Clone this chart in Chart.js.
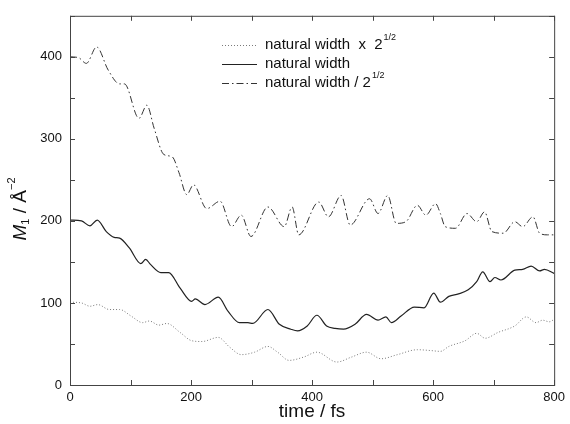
<!DOCTYPE html>
<html>
<head>
<meta charset="utf-8">
<script src="https://cdn.jsdelivr.net/npm/chart.js@4"></script>
<style>
  body { margin: 0; background: #fff; }
  canvas { display: block; }
</style>
</head>
<body>
<canvas id="chart" width="570" height="424"></canvas>
<script>
// natural width x 2^1/2 (dotted)
const wideTimes = [0, 19, 33, 46, 65, 82, 101, 120, 131, 147, 160, 182, 201, 218, 245, 264, 283, 305, 327, 343, 362, 386, 408, 441, 465, 490, 514, 541, 574, 596, 612, 626, 653, 672, 686, 707, 735, 754, 770, 781, 792, 800];
const wideValues = [101, 100, 96, 98, 92, 92, 84, 76, 78, 73, 75, 64, 54, 53, 58, 46, 37, 40, 47, 40, 30, 34, 40, 28, 34, 40, 32, 37, 43, 42, 41, 47, 54, 63, 57, 64, 72, 83, 76, 79, 77, 80];

// natural width (solid)
const naturalTimes = [0, 19, 33, 45, 60, 73, 82, 98, 117, 125, 133, 150, 163, 182, 201, 207, 223, 245, 261, 280, 294, 302, 327, 346, 365, 376, 392, 408, 424, 438, 452, 471, 490, 509, 522, 531, 547, 569, 585, 601, 612, 626, 642, 658, 672, 682, 694, 702, 712, 735, 748, 762, 776, 784, 800];
const naturalValues = [201, 200, 194, 201, 187, 180, 179, 167, 148, 153, 147, 137, 137, 118, 102, 105, 98, 107, 90, 76, 76, 75, 92, 74, 68, 66, 72, 85, 72, 69, 68, 74, 86, 79, 83, 76, 84, 95, 94, 112, 101, 108, 111, 116, 126, 138, 126, 131, 128, 140, 141, 145, 139, 141, 136];

// natural width / 2^1/2 (dash-dot)
const narrowTimes = [0, 14, 27, 44, 63, 82, 90, 114, 127, 139, 155, 169, 180, 193, 204, 226, 248, 267, 283, 299, 327, 354, 367, 378, 411, 427, 448, 463, 495, 509, 525, 539, 555, 574, 588, 604, 612, 620, 637, 656, 672, 685, 697, 716, 735, 748, 765, 776, 789, 800];
const narrowValues = [400, 399, 392, 412, 384, 367, 367, 325, 341, 313, 281, 278, 259, 232, 244, 215, 224, 193, 207, 181, 217, 193, 217, 183, 223, 205, 231, 195, 227, 209, 231, 197, 199, 219, 207, 221, 209, 193, 191, 209, 199, 211, 187, 185, 199, 193, 205, 185, 183, 183];

const xTicks = [0, 200, 400, 600, 800];
const yTicks = [0, 100, 200, 300, 400];

const FONT = '"Liberation Sans", Arial, Helvetica, sans-serif';
const INK = '#111';

function toPoints(times, values) {
    return times.map((t, i) => ({ x: t, y: values[i] }));
}

// Frame, inward ticks, axis titles and the legend
const decorations = {
    id: 'decorations',
    afterDraw(chart) {
        const ctx = chart.ctx;
        const area = chart.chartArea;
        const xs = chart.scales.x;
        const ys = chart.scales.y;
        ctx.save();

        // box
        ctx.strokeStyle = '#444';
        ctx.lineWidth = 1;
        ctx.strokeRect(area.left + 0.5, area.top + 0.5, area.right - area.left, area.bottom - area.top);

        // ticks pointing inward on all four sides
        ctx.beginPath();
        for (let v = 0; v <= 800; v += 100) {
            const px = Math.round(xs.getPixelForValue(v)) + 0.5;
            ctx.moveTo(px, area.bottom); ctx.lineTo(px, area.bottom - 5);
            ctx.moveTo(px, area.top); ctx.lineTo(px, area.top + 5);
        }
        for (let v = 0; v <= 450; v += 50) {
            const py = Math.round(ys.getPixelForValue(v)) + 0.5;
            ctx.moveTo(area.left, py); ctx.lineTo(area.left + 5, py);
            ctx.moveTo(area.right, py); ctx.lineTo(area.right - 5, py);
        }
        ctx.stroke();

        ctx.fillStyle = INK;
        ctx.textBaseline = 'middle';

        // x title
        ctx.font = '19px ' + FONT;
        ctx.textAlign = 'center';
        ctx.fillText('time / fs', (area.left + area.right) / 2, 412);

        // y title: M_1 / Å^-2, rotated
        ctx.translate(21, 209);
        ctx.rotate(-Math.PI / 2);
        ctx.textAlign = 'left';
        const parts = [
            { text: 'M', font: 'italic 19px ' + FONT, dy: 0 },
            { text: '1', font: '11px ' + FONT, dy: 5 },
            { text: ' / Å', font: '19px ' + FONT, dy: 0 },
            { text: '−2', font: '11px ' + FONT, dy: -9 }
        ];
        let total = 0;
        parts.forEach(p => { ctx.font = p.font; p.w = ctx.measureText(p.text).width; total += p.w; });
        let cx = -total / 2;
        parts.forEach(p => {
            ctx.font = p.font;
            ctx.fillText(p.text, cx, p.dy);
            cx += p.w;
        });
        ctx.setTransform(1, 0, 0, 1, 0, 0);

        // legend
        const rows = [
            { main: 'natural width  x  2', sup: '1/2' },
            { main: 'natural width', sup: '' },
            { main: 'natural width / 2', sup: '1/2' }
        ];
        const rowY = [45, 64, 83];
        chart.data.datasets.forEach((ds, i) => {
            const y = rowY[i] + 0.5;
            ctx.beginPath();
            ctx.setLineDash(ds.borderDash || []);
            ctx.strokeStyle = ds.borderColor;
            ctx.lineWidth = ds.borderWidth;
            ctx.moveTo(222, y);
            ctx.lineTo(257, y);
            ctx.stroke();
            ctx.setLineDash([]);

            ctx.fillStyle = INK;
            ctx.textAlign = 'left';
            ctx.font = '15px ' + FONT;
            ctx.fillText(rows[i].main, 265, rowY[i]);
            const w = ctx.measureText(rows[i].main).width;
            if (rows[i].sup) {
                ctx.font = '9px ' + FONT;
                ctx.fillText(rows[i].sup, 265 + w + 1, rowY[i] - 7);
            }
        });

        ctx.restore();
    }
};

new Chart(document.getElementById('chart'), {
    type: 'line',
    data: {
        datasets: [{
            label: 'natural width x 2^1/2',
            data: toPoints(wideTimes, wideValues),
            borderColor: '#7a7a7a',
            borderWidth: 1,
            borderDash: [1, 2]
        }, {
            label: 'natural width',
            data: toPoints(naturalTimes, naturalValues),
            borderColor: '#222',
            borderWidth: 1.2
        }, {
            label: 'natural width / 2^1/2',
            data: toPoints(narrowTimes, narrowValues),
            borderColor: '#333',
            borderWidth: 1,
            borderDash: [7, 3, 1.5, 3]
        }]
    },
    options: {
        responsive: false,
        animation: false,
        layout: { padding: { top: 12, right: 11, left: 0, bottom: 0 } },
        elements: {
            point: { radius: 0 },
            line: { cubicInterpolationMode: 'monotone', fill: false }
        },
        plugins: {
            legend: { display: false },
            tooltip: { enabled: false }
        },
        scales: {
            x: {
                type: 'linear',
                min: 0,
                max: 800,
                afterFit: scale => { scale.height = 39; },
                afterBuildTicks: scale => { scale.ticks = xTicks.map(v => ({ value: v })); },
                grid: { display: false, drawTicks: false },
                border: { display: false },
                ticks: { font: { family: FONT, size: 13 }, color: INK, padding: 5, maxRotation: 0 }
            },
            y: {
                type: 'linear',
                min: 0,
                max: 450,
                afterFit: scale => { scale.width = 70; },
                afterBuildTicks: scale => { scale.ticks = yTicks.map(v => ({ value: v })); },
                grid: { display: false, drawTicks: false },
                border: { display: false },
                ticks: { font: { family: FONT, size: 13 }, color: INK, padding: 8 }
            }
        }
    },
    plugins: [decorations]
});
</script>
</body>
</html>
